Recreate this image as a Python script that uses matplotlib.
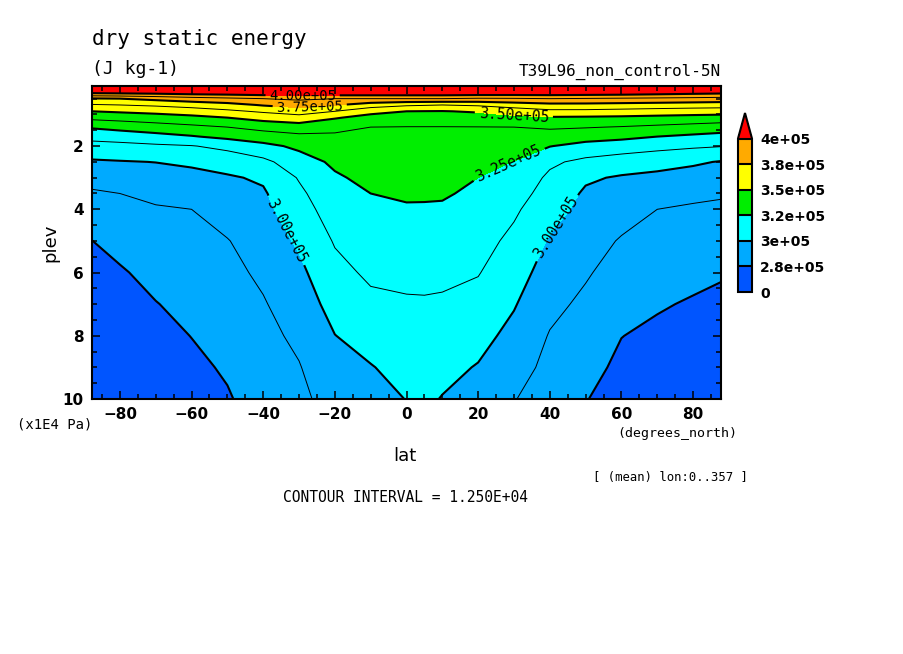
import numpy as np
import matplotlib
matplotlib.use("Agg")
import matplotlib.pyplot as plt
from matplotlib.colors import ListedColormap, BoundaryNorm
from matplotlib.ticker import MultipleLocator

# ---- data ---------------------------------------------------------------
lat = [-87.8, -80, -70, -60, -50, -40, -30, -20, -10, 0, 5, 10,
       20, 30, 40, 50, 60, 70, 80, 87.8]
plev = [0.1, 0.3, 0.5, 0.7, 0.9, 1.1, 1.4, 1.7, 2.0, 2.5, 3.0, 3.5,
        4.0, 5.0, 6.0, 7.0, 8.0, 9.0, 10.0]          # x1E4 Pa

# dry static energy (x1e5 J/kg), one list per latitude, top -> bottom
dse_cols = [
    [4.30, 4.040, 3.740, 3.614, 3.500, 3.407, 3.264, 3.161, 3.084, 2.985, 2.916, 2.860, 2.823, 2.749, 2.719, 2.689, 2.660, 2.630, 2.600],  # -87.8
    [4.30, 4.050, 3.750, 3.625, 3.516, 3.421, 3.292, 3.176, 3.092, 2.993, 2.934, 2.875, 2.845, 2.786, 2.738, 2.709, 2.679, 2.650, 2.620],  # -80
    [4.30, 4.060, 3.784, 3.644, 3.536, 3.442, 3.321, 3.208, 3.105, 3.002, 2.951, 2.900, 2.865, 2.825, 2.784, 2.746, 2.717, 2.689, 2.660],  # -70
    [4.30, 4.078, 3.823, 3.673, 3.562, 3.467, 3.347, 3.241, 3.119, 3.020, 2.964, 2.920, 2.875, 2.844, 2.813, 2.782, 2.752, 2.726, 2.700],  # -60
    [4.30, 4.086, 3.850, 3.706, 3.600, 3.500, 3.375, 3.281, 3.157, 3.049, 2.987, 2.956, 2.926, 2.870, 2.844, 2.817, 2.790, 2.763, 2.740],  # -50
    [4.30, 4.100, 3.875, 3.761, 3.643, 3.546, 3.417, 3.312, 3.219, 3.094, 3.016, 2.986, 2.968, 2.932, 2.896, 2.866, 2.844, 2.822, 2.800],  # -40
    [4.30, 4.112, 3.900, 3.795, 3.687, 3.575, 3.443, 3.346, 3.274, 3.198, 3.134, 3.101, 3.073, 3.017, 2.973, 2.936, 2.898, 2.869, 2.855],  # -30
    [4.30, 4.112, 3.875, 3.761, 3.625, 3.511, 3.408, 3.354, 3.323, 3.271, 3.235, 3.210, 3.185, 3.135, 3.089, 3.043, 2.998, 2.954, 2.910],  # -20
    [4.30, 4.112, 3.875, 3.687, 3.537, 3.458, 3.375, 3.357, 3.339, 3.310, 3.280, 3.250, 3.229, 3.187, 3.146, 3.098, 3.045, 2.994, 2.955],  # -10
    [4.30, 4.112, 3.875, 3.643, 3.500, 3.444, 3.372, 3.357, 3.341, 3.315, 3.289, 3.263, 3.240, 3.196, 3.153, 3.112, 3.076, 3.039, 3.003],  # 0
    [4.30, 4.112, 3.875, 3.634, 3.497, 3.443, 3.372, 3.357, 3.341, 3.315, 3.289, 3.263, 3.239, 3.196, 3.153, 3.114, 3.082, 3.051, 3.020],  # 5
    [4.30, 4.112, 3.875, 3.625, 3.495, 3.441, 3.372, 3.356, 3.340, 3.314, 3.287, 3.261, 3.237, 3.194, 3.151, 3.109, 3.070, 3.031, 2.995],  # 10
    [4.30, 4.106, 3.859, 3.642, 3.512, 3.451, 3.373, 3.350, 3.327, 3.289, 3.250, 3.230, 3.210, 3.171, 3.131, 3.085, 3.038, 2.993, 2.960],  # 20
    [4.30, 4.100, 3.864, 3.681, 3.557, 3.469, 3.375, 3.339, 3.304, 3.247, 3.213, 3.179, 3.145, 3.095, 3.052, 3.009, 2.966, 2.923, 2.880],  # 30
    [4.30, 4.100, 3.875, 3.714, 3.595, 3.487, 3.391, 3.320, 3.254, 3.147, 3.102, 3.073, 3.044, 2.989, 2.947, 2.905, 2.868, 2.844, 2.820],  # 40
    [4.30, 4.093, 3.867, 3.714, 3.594, 3.483, 3.382, 3.297, 3.212, 3.094, 3.016, 2.984, 2.965, 2.926, 2.887, 2.852, 2.820, 2.787, 2.755],  # 50
    [4.30, 4.086, 3.858, 3.706, 3.583, 3.478, 3.369, 3.280, 3.187, 3.064, 2.988, 2.956, 2.924, 2.865, 2.828, 2.790, 2.752, 2.726, 2.700],  # 60
    [4.30, 4.069, 3.850, 3.697, 3.571, 3.468, 3.351, 3.250, 3.161, 3.043, 2.971, 2.923, 2.875, 2.837, 2.799, 2.761, 2.727, 2.693, 2.660],  # 70
    [4.30, 4.050, 3.842, 3.687, 3.562, 3.458, 3.331, 3.227, 3.142, 3.017, 2.952, 2.897, 2.862, 2.821, 2.779, 2.739, 2.703, 2.666, 2.630],  # 80
    [4.30, 4.039, 3.833, 3.681, 3.557, 3.450, 3.312, 3.210, 3.130, 2.993, 2.940, 2.886, 2.856, 2.809, 2.762, 2.722, 2.685, 2.647, 2.610],  # 87.8
]

fill_levels = [0, 2.75e5, 3.0e5, 3.25e5, 3.5e5, 3.75e5, 4.0e5]
thick_levels = [2.75e5, 3.0e5, 3.25e5, 3.5e5, 3.75e5, 4.0e5]
thin_levels = [2.875e5, 3.125e5, 3.375e5, 3.625e5, 3.875e5]
fill_colors = ["#0055ff", "#00aaff", "#00ffff", "#00ee00", "#ffff00", "#ffaa00"]
over_color = "#ff0000"

# where the contour labels sit (lat, plev) and their size
label_spots = {
    3.0e5: ([(-32.5, 4.6), (42, 4.6)], 10.5),
    3.25e5: ([(28.5, 2.55)], 10.5),
    3.5e5: ([(30, 0.98)], 10.5),
    3.75e5: ([(-27, 0.8)], 10),
    4.0e5: ([(-29, 0.38)], 10),
}

Z = np.array(dse_cols).T * 1e5
MONO = "DejaVu Sans Mono"

# ---- figure ----------------------------------------------------------------
fig = plt.figure(figsize=(9.04, 6.54), dpi=100)
ax = fig.add_axes([92 / 904, 1 - 399 / 654, (721 - 92) / 904, (399 - 86) / 654])
ax.set_xlim(-87.8, 87.8)
ax.set_ylim(10, 0.1)

cmap = ListedColormap(fill_colors)
cmap.set_over(over_color)
norm = BoundaryNorm(fill_levels, cmap.N)

cf = ax.contourf(lat, plev, Z, levels=fill_levels, cmap=cmap, norm=norm, extend="max")
ax.contour(lat, plev, Z, levels=thin_levels, colors="black", linewidths=0.7)

# thick lines one level at a time, so each can get its own labels
for lev in thick_levels:
    cs = ax.contour(lat, plev, Z, levels=[lev], colors="black", linewidths=1.5)
    if lev in label_spots:
        spots, fsize = label_spots[lev]
        txts = ax.clabel(cs, manual=spots, fmt="%.2e", fontsize=fsize,
                         inline=True, inline_spacing=3)
        for t in txts:
            t.set_family(MONO)

ax.set_xlim(-87.8, 87.8)
ax.set_ylim(10, 0.1)
ax.set_xticks([-80, -60, -40, -20, 0, 20, 40, 60, 80])
ax.set_yticks([2, 4, 6, 8, 10])
ax.xaxis.set_minor_locator(MultipleLocator(5))
ax.yaxis.set_minor_locator(MultipleLocator(0.5))
ax.tick_params(which="both", direction="in", top=True, right=True, width=1.1)
ax.tick_params(which="major", length=6, labelsize=11, pad=6)
ax.tick_params(which="minor", length=3.5)
for lbl in ax.get_xticklabels() + ax.get_yticklabels():
    lbl.set_fontweight("bold")
for sp in ax.spines.values():
    sp.set_linewidth(1.5)

# colour bar
cax = fig.add_axes([738 / 904, 1 - 292 / 654, 14 / 904, (292 - 113) / 654])
cb = fig.colorbar(cf, cax=cax, extendfrac="auto", drawedges=True)
cb.set_ticks(fill_levels)
cb.set_ticklabels(["%.2g" % v for v in fill_levels])
cb.ax.tick_params(length=0, labelsize=10, pad=6)
for lbl in cb.ax.get_yticklabels():
    lbl.set_fontweight("bold")
cb.outline.set_linewidth(1.5)
cb.dividers.set_linewidth(1.5)

# texts
fig.text(92 / 904, 1 - 45 / 654, "dry static energy", fontsize=15,
         family=MONO, va="baseline")
fig.text(92 / 904, 1 - 74 / 654, "(J kg-1)", fontsize=13, family=MONO,
         va="baseline")
fig.text(721 / 904, 1 - 76 / 654, "T39L96_non_control-5N", fontsize=11.5,
         family=MONO, ha="right", va="baseline")
fig.text(50 / 904, 1 - 243 / 654, "plev", fontsize=13, rotation=90,
         ha="center", va="center")
fig.text(17 / 904, 1 - 424 / 654, "(x1E4 Pa)", fontsize=10, family=MONO,
         ha="left", va="center")
fig.text(737 / 904, 1 - 433 / 654, "(degrees_north)", fontsize=9.5, family=MONO,
         ha="right", va="center")
fig.text(405 / 904, 1 - 456 / 654, "lat", fontsize=13, ha="center", va="center")
fig.text(748 / 904, 1 - 478 / 654, "[ (mean) lon:0..357 ]", fontsize=8.8,
         family=MONO, ha="right", va="center")
fig.text(406 / 904, 1 - 497 / 654, "CONTOUR INTERVAL = 1.250E+04", fontsize=10.5,
         family=MONO, ha="center", va="center")

fig.savefig("out.png", dpi=100)
